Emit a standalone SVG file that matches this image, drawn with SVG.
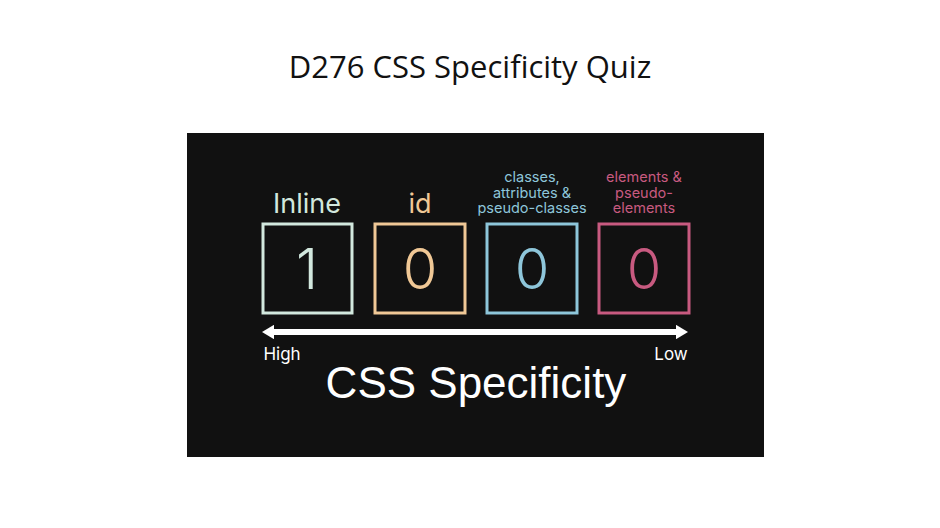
<svg xmlns="http://www.w3.org/2000/svg" width="940" height="528" viewBox="0 0 940 528">
<style>
.t{font-family:Inter,"Liberation Sans",Arial,sans-serif;text-anchor:middle}
.box{fill:none;stroke-width:3}
.dig{font-size:56px;font-weight:300}
.lab{font-size:14.5px}
</style>
<defs>
<marker id="ah" viewBox="0 0 10 10" refX="0" refY="5" markerWidth="2" markerHeight="2.4" preserveAspectRatio="none" orient="auto-start-reverse" markerUnits="strokeWidth">
<path d="M0,0 L10,5 L0,10 z" fill="#fff"/>
</marker>
</defs>
<rect width="940" height="528" fill="#fff"/>
<text x="470" y="78" font-family="'Open Sans','Noto Sans',sans-serif" font-size="31" text-anchor="middle" fill="#111">D276 CSS Specificity Quiz</text>
<rect x="187" y="133" width="577" height="324" fill="#111111"/>
<g id="inline">
<text class="t" x="307" y="213" font-size="27" fill="#d2e8de">Inline</text>
<rect class="box" x="263" y="224" width="89" height="89" stroke="#d2e8de"/>
<text class="t dig" x="307" y="289" fill="#d2e8de">1</text>
</g>
<g id="id">
<text class="t" x="420" y="213" font-size="27" fill="#f0c896">id</text>
<rect class="box" x="375" y="224" width="90" height="89" stroke="#f0c896"/>
<text class="t dig" x="420" y="289" fill="#f0c896">0</text>
</g>
<g id="classes">
<text class="t lab" x="532" y="182" fill="#8ec6da">classes,</text>
<text class="t lab" x="532" y="197.5" fill="#8ec6da">attributes &amp;</text>
<text class="t lab" x="532" y="213" fill="#8ec6da">pseudo-classes</text>
<rect class="box" x="487" y="224" width="90" height="89" stroke="#8ec6da"/>
<text class="t dig" x="532" y="289" fill="#8ec6da">0</text>
</g>
<g id="elements">
<text class="t lab" x="644" y="182" fill="#c85a80">elements &amp;</text>
<text class="t lab" x="644" y="197.5" fill="#c85a80">pseudo-</text>
<text class="t lab" x="644" y="213" fill="#c85a80">elements</text>
<rect class="box" x="599" y="224" width="90" height="89" stroke="#c85a80"/>
<text class="t dig" x="644" y="289" fill="#c85a80">0</text>
</g>
<g id="connectors">
<line x1="274" y1="332" x2="676" y2="332" stroke="#fff" stroke-width="6" marker-start="url(#ah)" marker-end="url(#ah)"/>
</g>
<text class="t" x="282" y="360" font-size="17" fill="#fff">High</text>
<text class="t" x="671" y="360" font-size="17" fill="#fff">Low</text>
<text x="476" y="398" font-family="'Liberation Sans',Arial,sans-serif" text-anchor="middle" font-size="44" fill="#fff">CSS Specificity</text>
</svg>
